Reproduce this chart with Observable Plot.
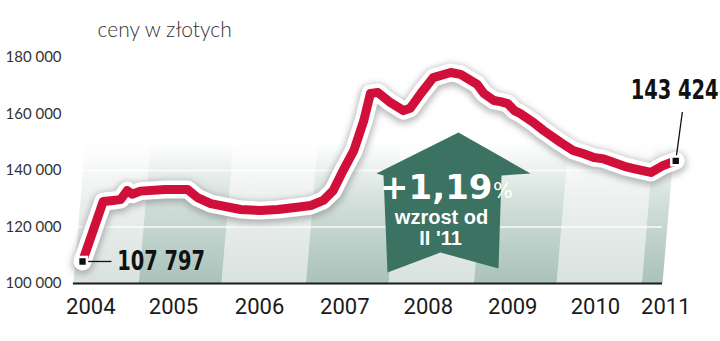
<!DOCTYPE html>
<html><head><meta charset="utf-8">
<script src="https://cdn.jsdelivr.net/npm/d3@7"></script>
<script src="https://cdn.jsdelivr.net/npm/@observablehq/plot@0.6"></script>
<style>body{margin:0;background:#fff;} #chart svg{display:block;}</style>
</head><body><div id="chart"></div>
<script>
const title = "ceny w złotych";
const years = [2004.00,2004.25,2004.37,2004.46,2004.54,2004.60,2004.70,2005.00,2005.27,2005.39,2005.55,2005.91,2006.15,2006.36,2006.57,2006.76,2006.91,2007.03,2007.15,2007.28,2007.40,2007.48,2007.57,2007.72,2007.88,2007.96,2008.09,2008.24,2008.45,2008.57,2008.65,2008.77,2008.85,2008.97,2009.05,2009.14,2009.22,2009.29,2009.45,2009.57,2009.78,2009.93,2010.05,2010.18,2010.30,2010.42,2010.55,2010.66,2010.87,2011.02,2011.17];
const prices = [107797,129000,129400,129700,132900,131600,132700,133300,133300,130400,128300,126200,125800,126200,126900,127600,129400,132900,140000,147100,157700,167300,167600,164100,161200,162000,167300,172900,174700,174000,172600,170500,167300,164800,164400,163700,161200,160200,157000,154200,149900,147100,146000,144600,144100,142800,141500,140700,139300,141800,143424];
const yTicks = [100000,120000,140000,160000,180000];
const xLabels = ["2004","2005","2006","2007","2008","2009","2010","2011"];
const xLabelPos = [2004.10,2005.10,2006.14,2007.17,2008.18,2009.20,2010.20,2011.05];
const bandEdges = [2003.89,2004.68,2005.68,2006.70,2007.70,2008.73,2009.73,2010.76,2011.01];
const bandTop = 150000;
const bandLean = 0.145;
const gridValues = [120000,140000];
const startLabel = "107 797";
const endLabel = "143 424";
const arrowXs = [2008.544,2009.415,2009.064,2009.028,2008.327,2007.686,2007.638,2007.553,2008.544];
const arrowYs = [153450,138940,138230,105300,110970,103900,138230,138940,153450];
const arrowBig = "+1,19";
const arrowPct = "%";
const arrowLine1 = "wzrost od";
const arrowLine2 = "II '11";

const fmt = d3.formatLocale({thousands:" ", grouping:[3], decimal:",", currency:["",""]}).format(",");
const data = years.map((x,i)=>({x, y: prices[i]}));
const darkPts = [], lightPts = [];
for (let i = 0; i < bandEdges.length - 1; i++) {
  const x0 = bandEdges[i], x1 = bandEdges[i+1];
  const pts = i % 2 ? darkPts : lightPts;
  [[x0,100000],[x1,100000],[x1+bandLean,bandTop],[x0+bandLean,bandTop]].forEach(([x,y])=>pts.push({band:i,x,y}));
}
const arrowPts = arrowXs.map((x,i)=>({x, y: arrowYs[i]}));
const first = data[0], last = data[data.length-1];
const bigFont = "DejaVu Sans Condensed, sans-serif";

const plot = Plot.plot({
  width: 720, height: 341, margin: 0,
  x: {domain:[2004, 2011.167], range:[82,675], axis:null},
  y: {domain:[100000,180000], range:[283,57], axis:null},
  style: {background:"white", overflow:"visible"},
  marks: [
    Plot.line(lightPts, {x:"x", y:"y", z:"band", fill:"url(#gLight)", stroke:"none"}),
    Plot.line(darkPts, {x:"x", y:"y", z:"band", fill:"url(#gDark)", stroke:"none"}),
    Plot.ruleY(gridValues, {x1: bandEdges[0], x2: bandEdges[bandEdges.length-1], stroke:"white", strokeWidth:1.3, strokeOpacity:0.9}),
    Plot.ruleY([100000], {x1: bandEdges[0], x2: bandEdges[bandEdges.length-1], stroke:"#1a1a1a", strokeWidth:2}),
    Plot.line(arrowPts, {x:"x", y:"y", fill:"#3b7262", stroke:"none"}),
    Plot.text([arrowBig], {x:2008.955, y:133700, text:d=>d, textAnchor:"end", fill:"white", fontSize:34, fontWeight:"bold", fontFamily:"DejaVu Sans"}),
    Plot.text([arrowPct], {x:2008.96, y:132500, text:d=>d, textAnchor:"start", fill:"white", fontSize:21, fontFamily:"DejaVu Sans"}),
    Plot.text([arrowLine1], {x:2008.339, y:123300, text:d=>d, fill:"white", fontSize:20, fontWeight:"bold", fontFamily:"Liberation Sans, Arial"}),
    Plot.text([arrowLine2], {x:2008.327, y:116000, text:d=>d, fill:"white", fontSize:20, fontWeight:"bold", fontFamily:"Liberation Sans, Arial"}),
    Plot.line(data, {x:"x", y:"y", stroke:"#7a7a7a", strokeWidth:22, strokeOpacity:0.5, dy:2, strokeLinejoin:"round", strokeLinecap:"round"}),
    Plot.line(data, {x:"x", y:"y", stroke:"white", strokeWidth:18, strokeLinejoin:"round", strokeLinecap:"round"}),
    Plot.line(data, {x:"x", y:"y", stroke:"#d0103a", strokeWidth:9, strokeLinejoin:"round"}),
    Plot.link([first], {x1:"x", y1:"y", x2: 2004.35, y2:"y", stroke:"#111", strokeWidth:1.3}),
    Plot.link([last], {x1:"x", y1:"y", x2: 2011.25, y2: 160700, stroke:"#111", strokeWidth:1.3}),
    Plot.dot([first, last], {x:"x", y:"y", symbol:"square", r:5, fill:"#111", stroke:"white", strokeWidth:2.5}),
    Plot.text([startLabel], {x:2004.42, y:first.y, text:d=>d, textAnchor:"start", fontSize:27, fontWeight:"bold", fill:"#111", fontFamily:bigFont}),
    Plot.text([endLabel], {x:2011.687, y:168300, text:d=>d, textAnchor:"end", fontSize:27, fontWeight:"bold", fill:"#111", fontFamily:bigFont}),
    Plot.text(yTicks, {y:d=>d, text:d=>fmt(d), frameAnchor:"left", dx:5, textAnchor:"start", fontSize:15, fill:"#333", fontFamily:"Lato, sans-serif"}),
    Plot.text(xLabels, {x:(d,i)=>xLabelPos[i], y:100000, dy:23, text:d=>d, fontSize:22, fill:"#1a1a1a", fontFamily:"Roboto, sans-serif"}),
    Plot.text([title], {frameAnchor:"top-left", dx:97, dy:22, text:d=>d, textAnchor:"start", fontSize:21, fill:"#333", fontFamily:"Lato, sans-serif", fontWeight:300})
  ]
});

const svg = d3.select(plot);
const defs = svg.insert("defs", ":first-child");
function grad(id, color) {
  const g = defs.append("linearGradient").attr("id", id).attr("x1",0).attr("y1",0).attr("x2",0).attr("y2",1);
  g.append("stop").attr("offset",0).attr("stop-color",color).attr("stop-opacity",0);
  g.append("stop").attr("offset",0.4).attr("stop-color",color).attr("stop-opacity",0.5);
  g.append("stop").attr("offset",1).attr("stop-color",color).attr("stop-opacity",1);
}
grad("gDark", "#a9c2ba");
grad("gLight", "#d9e2df");
const f = defs.append("filter").attr("id","blur").attr("x","-20%").attr("y","-20%").attr("width","140%").attr("height","140%");
f.append("feGaussianBlur").attr("stdDeviation",3);
svg.selectAll("g[stroke='#7a7a7a']").attr("filter","url(#blur)");
// condense the two bold value labels horizontally
svg.selectAll("text").filter(function(){ return this.textContent === startLabel || this.textContent === endLabel; })
  .each(function(){
    const t = this.getAttribute("transform") || "";
    this.setAttribute("transform", t + " scale(0.8,1)");
  });
document.getElementById("chart").appendChild(plot);
</script>
</body></html>
